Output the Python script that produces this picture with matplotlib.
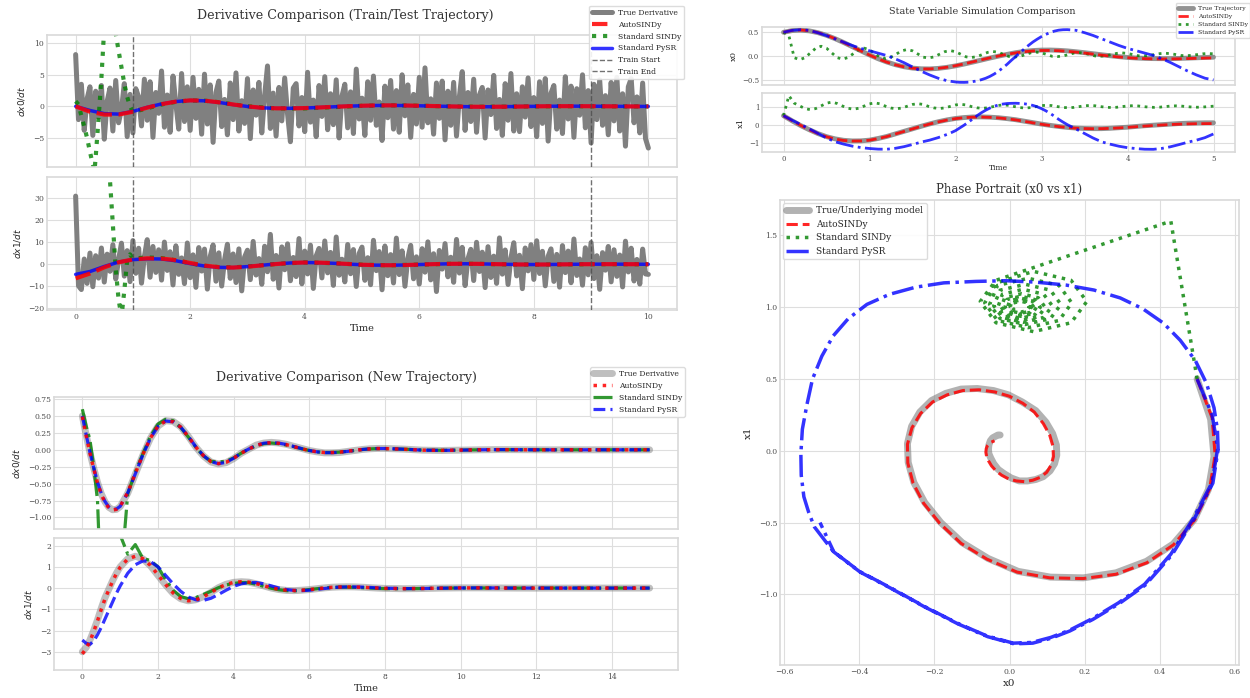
import numpy as np
import matplotlib
matplotlib.use("Agg")
import matplotlib.pyplot as plt

plt.style.use("seaborn-v0_8-whitegrid")
plt.rcParams["font.family"] = "serif"
plt.rcParams["font.serif"] = ["DejaVu Serif"]
plt.rcParams["axes.edgecolor"] = "0.85"
plt.rcParams["grid.color"] = "0.87"

# ---- training trajectory derivatives (noisy measurements, t = 0..10) ----
dx0_noisy = [
    8.2, -2.1, 3.5, -3.8, 1.2, 3.1, -4.6, 2.4, -1.7, 3.3,
    -5.2, 0.8, 2.9, -3.9, 4.1, -2.6, -0.5, 3.6, -4.8, 1.9,
    -4.2, 2.8, 1.5, -3.1, 4.3, -2.2, 3.9, -4.9, 2.2, -1.1,
    5.6, -3.3, 1.8, -4.1, 4.8, 0.4, -3.6, 5.2, -2.4, 3.1,
    -3.8, 4.6, -1.9, 2.7, -4.4, 5.1, -2.8, 3.4, -5.7, 2.2,
    4.0, -3.2, 1.1, -4.5, 3.7, -2.1, 5.3, -3.9, 0.9, -2.7,
    4.4, -5.1, 2.6, -1.4, 3.8, -4.2, 1.7, 6.4, -3.5, 2.1,
    -4.7, 3.0, -2.3, 4.5, -1.2, -5.6, 2.9, 3.6, -3.1, 1.4,
    -4.0, 5.4, -2.5, 1.0, -4.8, 3.3, -1.6, 4.7, -3.7, 2.0,
    -2.9, 4.2, -5.0, 1.6, 3.5, -3.4, 2.3, -4.3, 5.9, -2.0,
    1.3, -4.6, 3.9, -2.2, 4.8, -3.0, 0.7, -5.4, 3.2, -1.8,
    4.1, -3.6, 2.5, -4.1, 5.0, -1.5, 3.4, -4.9, 1.9, -2.8,
    4.6, -3.3, 6.1, -2.6, 1.2, -4.4, 3.7, -1.9, 4.0, -5.3,
    2.4, -3.0, 3.8, -4.7, 1.5, 5.5, -3.8, 2.2, -2.4, 4.3,
    -4.1, 1.8, 3.0, -5.0, 2.6, -1.3, 4.9, -3.5, 1.1, -4.6,
    3.6, -2.2, 5.2, -3.9, 2.0, -4.0, 3.1, -1.7, 4.5, -3.2,
    1.4, -4.8, 3.9, -2.7, 4.4, -5.5, 2.1, 3.3, -3.6, 1.0,
    -4.3, 4.7, -2.0, 3.2, -4.9, 2.8, -1.4, 5.0, -3.4, 2.5,
    -5.8, 3.5, -2.1, 4.2, -3.0, 1.7, -4.5, 3.8, -2.3, 4.6,
    -3.9, 2.0, -6.3, 3.1, 4.4, -2.6, 1.5, -4.2, 3.7, -5.1,
    -6.6,
]
dx1_noisy = [
    31.0, -9.8, -11.5, 2.4, -8.7, 5.1, -10.2, 3.9, -6.3, 7.4,
    -8.1, 4.6, -3.2, 8.9, -6.7, 2.1, 9.6, -5.4, 6.2, -7.9,
    10.8, -4.1, 7.3, -8.6, 3.5, 11.2, -5.9, 8.1, -3.7, 6.6,
    -7.2, 10.1, -2.8, 5.7, -9.4, 8.4, -4.6, 2.9, -8.8, 9.7,
    -6.1, 4.3, -10.5, 7.6, -3.1, 6.9, -11.3, 3.6, 8.8, -7.7,
    5.2, -9.9, 2.0, 9.1, -6.4, 4.7, -8.3, 7.0, -12.1, 3.3,
    6.4, -7.0, 10.4, -4.9, 2.6, -9.1, 8.2, -3.4, 13.6, -6.8,
    4.0, -10.8, 7.9, -2.5, 9.3, -7.5, 3.1, -5.6, 11.7, -8.9,
    6.0, -4.4, 8.7, -11.0, 3.8, 7.2, -6.2, 10.6, -3.9, 5.4,
    -9.6, 12.4, -5.0, 2.3, -8.0, 9.0, -4.3, 6.7, -10.1, 4.9,
    7.8, -7.3, 3.0, -9.3, 10.9, -2.9, 5.8, -11.6, 8.3, -5.2,
    4.4, -8.5, 11.9, -4.7, 6.1, -10.0, 2.7, 8.6, -6.6, 3.4,
    -9.0, 7.1, -3.6, 10.2, -7.1, 4.8, -12.4, 6.3, -2.2, 9.4,
    -5.7, 3.2, -8.2, 11.3, -4.0, 7.7, -9.7, 2.5, 6.8, -7.4,
    10.0, -3.3, 5.5, -10.6, 8.0, -6.0, 3.7, -8.7, 12.0, -4.5,
    6.5, -9.2, 2.8, 9.8, -5.3, 4.1, -11.1, 7.4, -3.0, 8.9,
    -6.9, 10.7, -4.2, 5.9, -9.8, 3.6, 7.0, -7.8, 4.5, -10.4,
    8.5, -3.8, 6.0, -8.4, 11.5, -5.1, 2.4, -9.5, 7.5, -4.8,
    9.9, -6.5, 3.9, -11.4, 5.3, -2.7, 8.1, -8.0, 6.6, -5.5,
    4.2, -10.3, 10.5, -3.5, 7.3, -7.6, 2.2, -9.0, 6.9, -4.4,
    -4.6,
]

# model derivatives on the training trajectory (every 0.25 s)
auto_train_dx0 = [0.0, -0.85, -1.3, -1.3, -0.85, -0.2, 0.35, 0.75, 0.95, 0.9,
                  0.65, 0.3, 0.0, -0.22, -0.31, -0.32, -0.27, -0.18, -0.08, 0.02,
                  0.1, 0.15, 0.16, 0.14, 0.1, 0.05, 0.0, -0.04, -0.06, -0.06,
                  -0.05, -0.03, 0.0, 0.02, 0.03, 0.03, 0.02, 0.01, 0.0, -0.01, -0.01]
pysr_train_dx0 = [0.0, -0.65, -1.15, -1.22, -0.8, -0.15, 0.38, 0.76, 0.94, 0.88,
                  0.63, 0.28, -0.02, -0.23, -0.31, -0.31, -0.26, -0.17, -0.07, 0.03,
                  0.1, 0.14, 0.15, 0.13, 0.09, 0.04, 0.0, -0.04, -0.06, -0.06,
                  -0.04, -0.02, 0.0, 0.02, 0.03, 0.03, 0.02, 0.01, 0.0, -0.01, -0.01]
auto_train_dx1 = [-6.4, -4.2, -1.4, 0.9, 2.2, 2.7, 2.6, 1.9, 0.6, -0.6,
                  -1.3, -1.5, -1.1, -0.5, 0.1, 0.6, 0.8, 0.75, 0.5, 0.15,
                  -0.2, -0.4, -0.45, -0.35, -0.15, 0.05, 0.2, 0.25, 0.2, 0.1,
                  -0.02, -0.1, -0.12, -0.1, -0.05, 0.0, 0.04, 0.05, 0.04, 0.02, 0.0]
pysr_train_dx1 = [-4.6, -3.3, -1.0, 1.0, 2.1, 2.5, 2.4, 1.6, 0.3, -0.8,
                  -1.4, -1.5, -1.05, -0.45, 0.15, 0.6, 0.8, 0.7, 0.45, 0.1,
                  -0.22, -0.4, -0.43, -0.33, -0.13, 0.06, 0.2, 0.24, 0.19, 0.09,
                  -0.03, -0.1, -0.12, -0.09, -0.04, 0.01, 0.04, 0.05, 0.04, 0.02, 0.0]

t_sindy_train = [0, 0.05, 0.1, 0.15, 0.2, 0.25, 0.3, 0.33, 0.35, 0.4, 0.45,
                 0.5, 0.55, 0.6, 0.65, 0.7, 0.75, 0.8, 0.85, 0.9, 0.95, 1.0,
                 1.25, 1.5, 1.75, 2.0, 2.25, 2.5, 2.75, 3.0,
                 3.5, 4.0, 4.5, 5.0, 5.5, 6.0, 6.5, 7.0, 7.5, 8.0, 8.5, 9.0, 9.5, 10.0]
sindy_train_dx0 = [0.8, 0.3, -1.5, -3.2, -5.0, -7.2, -9.2, -10.2, -8.0, -2.0, 4.5,
                   12.5, 19.0, 23.0, 19.0, 11.5, 8.8, 6.2, 3.6, 1.5, 0.0, -0.9,
                   -0.3, 0.3, 0.72, 0.93, 0.9, 0.66, 0.31, 0.02,
                   -0.33, -0.32, -0.12, 0.09, 0.16, 0.1, 0.0, -0.06, -0.05, 0.0, 0.03, 0.02, 0.0, -0.01]
sindy_train_dx1 = [60, 68, 74, 78, 80, 79, 76, 73, 71, 66, 60,
                   54, 47, 38, 18, -2, -16, -24, -12, 2, 4.5, 2.6,
                   3.1, 2.8, 1.8, 0.5, -0.7, -1.3, -1.4, -1.0,
                   0.15, 0.85, 0.5, -0.2, -0.45, -0.15, 0.2, 0.2, -0.02, -0.12, -0.05, 0.04, 0.04, 0.0]

train_start, train_end = 1.0, 9.0

# ---- new trajectory derivatives (t = 0..15) ----
t_new = [0, 0.1, 0.2, 0.3, 0.4, 0.5, 0.6, 0.7, 0.8, 0.9,
         1.0, 1.2, 1.4, 1.6, 1.8, 2.0, 2.2, 2.4, 2.6, 2.8,
         3.0, 3.2, 3.4, 3.6, 3.8, 4.0, 4.2, 4.4, 4.6, 4.8,
         5.0, 5.2, 5.4, 5.6, 5.8, 6.0, 6.2, 6.4, 6.6, 6.8,
         7.0, 7.2, 7.4, 7.6, 7.8, 8.0, 8.5, 9.0, 9.5, 10.0,
         10.5, 11.0, 11.5, 12.0, 12.5, 13.0, 13.5, 14.0, 14.5, 15.0]
true_dx0_new = [0.50, 0.22, -0.04, -0.27, -0.48, -0.65, -0.77, -0.85, -0.885, -0.88,
                -0.84, -0.64, -0.36, -0.08, 0.17, 0.35, 0.43, 0.42, 0.34, 0.20,
                0.04, -0.09, -0.18, -0.21, -0.19, -0.13, -0.05, 0.01, 0.07, 0.10,
                0.11, 0.10, 0.08, 0.05, 0.02, -0.01, -0.03, -0.045, -0.045, -0.04,
                -0.025, -0.01, 0.005, 0.015, 0.02, 0.02, 0.01, -0.005, -0.01, -0.005,
                0.0, 0.003, 0.002, 0.0, -0.001, 0.0, 0.0, 0.0, 0.0, 0.0]
auto_dx0_new = [0.49, 0.21, -0.05, -0.28, -0.49, -0.66, -0.78, -0.86, -0.89, -0.88,
                -0.835, -0.63, -0.35, -0.07, 0.175, 0.35, 0.425, 0.415, 0.335, 0.195,
                0.04, -0.085, -0.175, -0.205, -0.185, -0.125, -0.05, 0.01, 0.065, 0.095,
                0.105, 0.095, 0.075, 0.045, 0.015, -0.01, -0.03, -0.04, -0.04, -0.035,
                -0.02, -0.008, 0.005, 0.013, 0.018, 0.018, 0.008, -0.005, -0.008, -0.004,
                0.0, 0.002, 0.001, 0.0, 0.0, 0.0, 0.0, 0.0, 0.0, 0.0]
sindy_dx0_new = [0.6, 0.35, 0.15, -0.25, -0.75, -2.2, -3.5, -4.0, -3.8, -3.0,
                 -2.0, -0.65, -0.33, -0.06, 0.2, 0.38, 0.45, 0.43, 0.33, 0.19,
                 0.04, -0.09, -0.17, -0.18, -0.17, -0.12, -0.05, 0.01, 0.06, 0.09,
                 0.1, 0.09, 0.07, 0.045, 0.015, -0.01, -0.03, -0.04, -0.04, -0.035,
                 -0.022, -0.01, 0.004, 0.013, 0.018, 0.018, 0.009, -0.004, -0.008, -0.004,
                 0.0, 0.002, 0.001, 0.0, 0.0, 0.0, 0.0, 0.0, 0.0, 0.0]
pysr_dx0_new = [0.5, 0.225, -0.035, -0.265, -0.475, -0.645, -0.765, -0.845, -0.88, -0.875,
                -0.835, -0.635, -0.355, -0.075, 0.17, 0.345, 0.425, 0.415, 0.335, 0.2,
                0.045, -0.085, -0.175, -0.205, -0.185, -0.125, -0.048, 0.012, 0.068, 0.098,
                0.108, 0.098, 0.078, 0.048, 0.018, -0.01, -0.03, -0.043, -0.043, -0.038,
                -0.024, -0.01, 0.005, 0.014, 0.019, 0.019, 0.009, -0.005, -0.009, -0.005,
                0.0, 0.003, 0.002, 0.0, -0.001, 0.0, 0.0, 0.0, 0.0, 0.0]
true_dx1_new = [-3.0, -2.8, -2.45, -2.0, -1.5, -0.95, -0.45, -0.05, 0.35, 0.7,
                1.0, 1.38, 1.5, 1.38, 1.05, 0.6, 0.15, -0.25, -0.5, -0.6,
                -0.55, -0.4, -0.2, 0.02, 0.18, 0.27, 0.3, 0.28, 0.2, 0.1,
                0.0, -0.07, -0.11, -0.12, -0.1, -0.07, -0.03, 0.01, 0.04, 0.055,
                0.06, 0.055, 0.04, 0.02, 0.0, -0.015, -0.03, -0.02, 0.0, 0.01,
                0.01, 0.005, 0.0, -0.003, 0.0, 0.0, 0.0, 0.0, 0.0, 0.0]
auto_dx1_new = [-3.1, -2.85, -2.5, -2.05, -1.55, -1.0, -0.5, -0.08, 0.32, 0.68,
                0.98, 1.37, 1.5, 1.39, 1.07, 0.62, 0.17, -0.23, -0.49, -0.6,
                -0.56, -0.41, -0.21, 0.01, 0.17, 0.27, 0.3, 0.28, 0.21, 0.11,
                0.01, -0.06, -0.1, -0.115, -0.1, -0.07, -0.035, 0.005, 0.035, 0.05,
                0.055, 0.05, 0.038, 0.02, 0.002, -0.012, -0.026, -0.018, -0.002, 0.008,
                0.008, 0.004, 0.0, -0.002, 0.0, 0.0, 0.0, 0.0, 0.0, 0.0]
sindy_dx1_new = [9.0, 8.5, 8.0, 7.5, 7.0, 6.4, 5.6, 4.6, 3.9, 3.2,
                 2.5, 1.6, 2.05, 1.4, 1.3, 1.0, 0.4, -0.1, -0.4, -0.5,
                 -0.45, -0.3, -0.15, 0.02, 0.15, 0.22, 0.26, 0.25, 0.18, 0.08,
                 -0.01, -0.08, -0.12, -0.13, -0.11, -0.07, -0.03, 0.01, 0.035, 0.045,
                 0.045, 0.035, 0.02, 0.0, -0.015, -0.025, -0.03, -0.02, -0.005, 0.005,
                 0.005, 0.003, 0.0, 0.0, 0.0, 0.0, 0.0, 0.0, 0.0, 0.0]
pysr_dx1_new = [-2.45, -2.6, -2.65, -2.5, -2.2, -1.85, -1.45, -1.05, -0.65, -0.25,
                0.1, 0.7, 1.1, 1.28, 1.25, 1.0, 0.6, 0.2, -0.15, -0.42,
                -0.55, -0.58, -0.48, -0.3, -0.1, 0.08, 0.2, 0.26, 0.26, 0.2,
                0.1, 0.0, -0.07, -0.11, -0.12, -0.1, -0.06, -0.02, 0.02, 0.045,
                0.055, 0.055, 0.045, 0.03, 0.01, -0.005, -0.025, -0.02, -0.005, 0.005,
                0.008, 0.005, 0.0, 0.0, 0.0, 0.0, 0.0, 0.0, 0.0, 0.0]

# ---- simulated states (every 0.1 s, t = 0..5) ----
true_x0 = [0.5, 0.536, 0.545, 0.530, 0.492, 0.436, 0.365, 0.284, 0.197, 0.109,
           0.023, -0.057, -0.126, -0.183, -0.226, -0.255, -0.270, -0.272, -0.261, -0.239,
           -0.208, -0.170, -0.129, -0.086, -0.043, -0.003, 0.034, 0.070, 0.097, 0.115,
           0.125, 0.126, 0.120, 0.108, 0.090, 0.070, 0.048, 0.026, 0.005, -0.014,
           -0.030, -0.042, -0.050, -0.055, -0.056, -0.055, -0.051, -0.045, -0.038, -0.031,
           -0.025]
true_x1 = [0.50, 0.22, -0.04, -0.27, -0.48, -0.65, -0.77, -0.85, -0.885, -0.88,
           -0.84, -0.75, -0.64, -0.50, -0.36, -0.22, -0.08, 0.05, 0.17, 0.27,
           0.35, 0.40, 0.43, 0.434, 0.42, 0.39, 0.34, 0.28, 0.20, 0.12,
           0.04, -0.03, -0.09, -0.14, -0.18, -0.20, -0.21, -0.21, -0.19, -0.16,
           -0.13, -0.09, -0.05, -0.02, 0.01, 0.04, 0.07, 0.09, 0.10, 0.11,
           0.11]
auto_x0 = [0.5, 0.54, 0.548, 0.533, 0.494, 0.437, 0.366, 0.284, 0.196, 0.107,
           0.02, -0.06, -0.129, -0.186, -0.229, -0.257, -0.271, -0.272, -0.26, -0.237,
           -0.205, -0.166, -0.124, -0.081, -0.039, 0.0, 0.036, 0.066, 0.09, 0.107,
           0.116, 0.117, 0.111, 0.099, 0.082, 0.062, 0.04, 0.018, -0.003, -0.021,
           -0.036, -0.048, -0.056, -0.061, -0.063, -0.062, -0.059, -0.054, -0.049, -0.044,
           -0.04]
auto_x1 = [0.5, 0.23, -0.03, -0.27, -0.48, -0.655, -0.78, -0.86, -0.89, -0.885,
           -0.845, -0.755, -0.645, -0.505, -0.365, -0.225, -0.085, 0.045, 0.16, 0.26,
           0.34, 0.39, 0.42, 0.425, 0.41, 0.38, 0.33, 0.27, 0.19, 0.11,
           0.03, -0.04, -0.1, -0.15, -0.185, -0.205, -0.215, -0.21, -0.195, -0.17,
           -0.14, -0.105, -0.07, -0.04, -0.01, 0.015, 0.035, 0.05, 0.06, 0.065,
           0.07]

# PySR simulation: 0.1 s steps, finer (0.05 s) through the fast upper swing
t_pysr = np.r_[np.linspace(0, 1.9, 20), np.linspace(1.95, 3.3, 28), np.linspace(3.4, 5.0, 17)]
pysr_x0 = [0.50, 0.54, 0.555, 0.54, 0.49, 0.43, 0.36, 0.29, 0.22, 0.16,
           0.11, 0.06, 0.01, -0.06, -0.14, -0.23, -0.32, -0.40, -0.47, -0.52,
           -0.535, -0.548, -0.555, -0.556, -0.552, -0.54, -0.525, -0.50, -0.47, -0.43,
           -0.38, -0.32, -0.25, -0.175, -0.09, -0.01, 0.07, 0.15, 0.225, 0.295,
           0.355, 0.41, 0.455, 0.495, 0.525, 0.545, 0.554, 0.556,
           0.542, 0.492, 0.433, 0.362, 0.292, 0.222, 0.161, 0.112, 0.062, 0.012,
           -0.058, -0.138, -0.228, -0.318, -0.398, -0.468, -0.505]
pysr_x1 = [0.50, 0.25, 0.02, -0.22, -0.47, -0.72, -0.93, -1.06, -1.17, -1.25,
           -1.30, -1.335, -1.34, -1.29, -1.20, -1.08, -0.95, -0.84, -0.70, -0.53,
           -0.43, -0.32, -0.17, -0.02, 0.15, 0.32, 0.50, 0.66, 0.80, 0.92,
           1.02, 1.09, 1.14, 1.17, 1.18, 1.185, 1.175, 1.155, 1.12, 1.065,
           0.99, 0.89, 0.77, 0.63, 0.47, 0.30, 0.15, 0.01,
           -0.225, -0.475, -0.725, -0.935, -1.065, -1.175, -1.255, -1.305, -1.34, -1.345,
           -1.295, -1.205, -1.085, -0.955, -0.845, -0.705, -0.50]

# standard SINDy simulation (every 0.0625 s)
sindy_x0 = [0.5, 0.43, -0.036, -0.078, -0.036, 0.064, 0.164, 0.206, 0.164, 0.064,
            -0.035, -0.066, -0.032, 0.05, 0.132, 0.166, 0.132, 0.05, -0.032,
            -0.053, -0.025, 0.042, 0.109, 0.137, 0.109, 0.042, -0.025,
            -0.042, -0.019, 0.036, 0.091, 0.114, 0.091, 0.036, -0.019,
            -0.031, -0.013, 0.032, 0.077, 0.095, 0.077, 0.032, -0.013,
            -0.022, -0.007, 0.03, 0.067, 0.082, 0.067, 0.03, -0.007,
            -0.012, 0.0, 0.03, 0.06, 0.072, 0.06, 0.03, 0.0,
            -0.005, 0.005, 0.03, 0.055, 0.065, 0.055, 0.03, 0.005,
            0.002, 0.01, 0.03, 0.05, 0.058, 0.05, 0.03, 0.01,
            0.007, 0.014, 0.03, 0.046, 0.053, 0.046]
sindy_x1 = [0.5, 1.6, 1.188, 1.04, 0.892, 0.83, 0.892, 1.04, 1.188, 1.25,
            1.169, 1.03, 0.908, 0.858, 0.908, 1.03, 1.152, 1.202, 1.152,
            1.02, 0.921, 0.88, 0.921, 1.02, 1.119, 1.16, 1.119,
            1.01, 0.929, 0.895, 0.929, 1.01, 1.091, 1.125, 1.091,
            1.0, 0.934, 0.906, 0.934, 1.0, 1.066, 1.094, 1.066,
            1.0, 0.946, 0.923, 0.946, 1.0, 1.054, 1.077, 1.054,
            1.0, 0.955, 0.937, 0.955, 1.0, 1.045, 1.063, 1.045,
            1.0, 0.964, 0.949, 0.964, 1.0, 1.036, 1.051, 1.036,
            1.0, 0.97, 0.958, 0.97, 1.0, 1.03, 1.042, 1.03,
            1.0, 0.976, 0.966, 0.976, 1.0, 1.024]

t_noisy = np.linspace(0, 10, len(dx0_noisy))
t_train = np.linspace(0, 10, len(auto_train_dx0))
t_sim = np.linspace(0, 5, len(true_x0))
t_sindy_sim = np.linspace(0, 5, len(sindy_x0))

fig = plt.figure(figsize=(12.5, 6.98), dpi=100)
FW, FH = 1250, 698


def px_axes(x0, y0, x1, y1, **kw):
    return fig.add_axes([x0 / FW, 1 - y1 / FH, (x1 - x0) / FW, (y1 - y0) / FH], **kw)


def px_title(x, y, text, size):
    fig.text(x / FW, 1 - y / FH, text, ha="center", va="center", fontsize=size, color="0.2")


def style(ax, size=5.5):
    ax.tick_params(labelsize=size, pad=2, colors="0.3")
    for s in ax.spines.values():
        s.set_linewidth(1.2)


def legend(ax, **kw):
    ax.legend(frameon=True, framealpha=0.9, edgecolor="0.85", handlelength=2.5, **kw)


# ---------- derivative comparison on the train/test trajectory ----------
a1 = px_axes(47, 35, 677, 167)
a2 = px_axes(47, 177, 677, 310, sharex=a1)
for ax, noisy, auto, sindy, pysr in [
        (a1, dx0_noisy, auto_train_dx0, sindy_train_dx0, pysr_train_dx0),
        (a2, dx1_noisy, auto_train_dx1, sindy_train_dx1, pysr_train_dx1)]:
    ax.plot(t_noisy, noisy, color="gray", lw=3.6, label="True Derivative", zorder=1)
    ax.plot(t_train, auto, color="red", ls="--", lw=3, alpha=0.85, label="AutoSINDy", zorder=4)
    ax.plot(t_sindy_train, sindy, color="green", ls=":", lw=3, alpha=0.8,
            label="Standard SINDy", zorder=2)
    ax.plot(t_train, pysr, color="blue", lw=2.5, alpha=0.8, label="Standard PySR", zorder=3)
    ax.axvline(train_start, color="0.3", ls="--", lw=1, alpha=0.8, label="Train Start", zorder=5)
    ax.axvline(train_end, color="0.3", ls="--", lw=1, alpha=0.8, label="Train End", zorder=5)
    style(ax)
a1.set_ylim(-9.6, 11.3)
a2.set_ylim(-20.8, 39.7)
a1.tick_params(labelbottom=False)
a1.set_ylabel("$dx0/dt$", fontsize=6.5, labelpad=4)
a2.set_ylabel("$dx1/dt$", fontsize=6.5, labelpad=4)
a2.set_xlabel("Time", fontsize=7, labelpad=2)
legend(a1, loc="upper right", bbox_to_anchor=(1.011, 1.22), borderaxespad=0, fontsize=5.5)
px_title(345, 15, "Derivative Comparison (Train/Test Trajectory)", 9.1)

# ---------- derivative comparison on the new trajectory ----------
b1 = px_axes(54, 397, 678, 529)
b2 = px_axes(54, 538, 678, 670, sharex=b1)
for ax, true, auto, sindy, pysr in [
        (b1, true_dx0_new, auto_dx0_new, sindy_dx0_new, pysr_dx0_new),
        (b2, true_dx1_new, auto_dx1_new, sindy_dx1_new, pysr_dx1_new)]:
    ax.plot(t_new, true, color="gray", lw=5, alpha=0.5, label="True Derivative", zorder=1)
    ax.plot(t_new, auto, color="red", ls=":", lw=2.5, alpha=0.85, label="AutoSINDy", zorder=4)
    ax.plot(t_new, sindy, color="green", ls="-.", lw=2.3, alpha=0.8, label="Standard SINDy", zorder=2)
    ax.plot(t_new, pysr, color="blue", ls="--", lw=2.3, alpha=0.8, label="Standard PySR", zorder=3)
    style(ax)
b1.set_ylim(-1.17, 0.78)
b2.set_ylim(-3.86, 2.36)
b1.tick_params(labelbottom=False)
b1.set_ylabel("$dx0/dt$", fontsize=6.5, labelpad=4)
b2.set_ylabel("$dx1/dt$", fontsize=6.5, labelpad=4)
b2.set_xlabel("Time", fontsize=7, labelpad=2)
legend(b1, loc="upper right", bbox_to_anchor=(1.011, 1.227), borderaxespad=0, fontsize=5.5)
px_title(347, 378, "Derivative Comparison (New Trajectory)", 9.1)

# ---------- state variable simulation ----------
c1 = px_axes(762, 27, 1235, 85)
c2 = px_axes(762, 93, 1235, 152, sharex=c1)
for ax, true, auto, sindy, pysr in [
        (c1, true_x0, auto_x0, sindy_x0, pysr_x0),
        (c2, true_x1, auto_x1, sindy_x1, pysr_x1)]:
    ax.plot(t_sim, true, color="gray", lw=3.5, alpha=0.85, label="True Trajectory", zorder=1)
    ax.plot(t_sim, auto, color="red", ls="--", lw=2, alpha=0.85, label="AutoSINDy", zorder=3)
    ax.plot(t_sindy_sim, sindy, color="green", ls=":", lw=2, alpha=0.8, label="Standard SINDy", zorder=2)
    ax.plot(t_pysr, pysr, color="blue", ls="-.", lw=2, alpha=0.8, label="Standard PySR", zorder=4)
    style(ax, 5)
c1.tick_params(labelbottom=False)
c1.set_ylabel("x0", fontsize=6, labelpad=3)
c2.set_ylabel("x1", fontsize=6, labelpad=3)
c2.set_xlabel("Time", fontsize=5.5, labelpad=1)
legend(c1, loc="upper right", bbox_to_anchor=(1.032, 1.41), borderaxespad=0, fontsize=4.3)
px_title(982, 11, "State Variable Simulation Comparison", 6.9)

# ---------- phase portrait ----------
d = px_axes(780, 200, 1239, 665)
d.plot(true_x0, true_x1, color="gray", lw=5, alpha=0.6, label="True/Underlying model", zorder=1)
d.plot(auto_x0, auto_x1, color="red", ls="--", lw=2.2, alpha=0.85, label="AutoSINDy", zorder=3)
d.plot(sindy_x0, sindy_x1, color="green", ls=":", lw=2.5, alpha=0.8, label="Standard SINDy", zorder=2)
d.plot(pysr_x0, pysr_x1, color="blue", ls="-.", lw=2.5, alpha=0.8, label="Standard PySR", zorder=4)
style(d)
d.set_xlabel("x0", fontsize=7.5, labelpad=2)
d.set_ylabel("x1", fontsize=7.5, labelpad=4)
d.set_title("Phase Portrait (x0 vs x1)", fontsize=8.5, color="0.2", pad=5)
legend(d, loc="upper left", fontsize=6.5, borderaxespad=0.3)

fig.savefig("out.png", dpi=100)
